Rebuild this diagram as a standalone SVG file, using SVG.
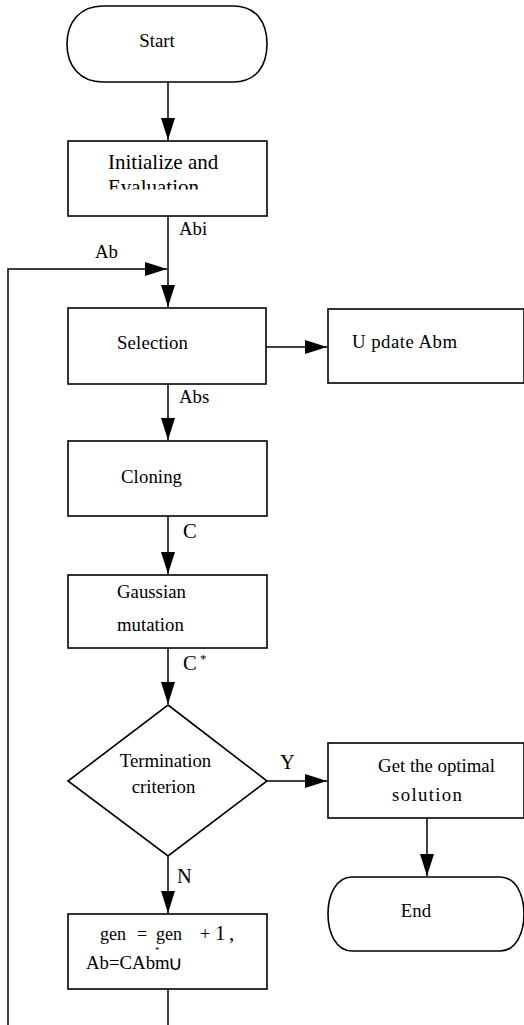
<svg xmlns="http://www.w3.org/2000/svg" width="524" height="1025" viewBox="0 0 524 1025">
<style>
.s{fill:#fff;stroke:#000;stroke-width:1.6}
.l{fill:none;stroke:#000;stroke-width:1.5}
text{font-family:"Liberation Serif","Times New Roman",serif;fill:#000}
.t{font-size:18.8px}
.b{font-size:20.5px}
</style>
<defs>
<marker id="a" viewBox="0 0 22 14" refX="22" refY="7" markerWidth="22" markerHeight="14" markerUnits="userSpaceOnUse" orient="auto">
<path d="M0,0 L22,7 L0,14 Z" fill="#000"/>
</marker>
<clipPath id="c1"><rect x="68" y="142" width="199" height="47.5"/></clipPath>
</defs>
<g id="connectors">
<path class="l" d="M168,82 V140" marker-end="url(#a)"/>
<path class="l" d="M168,216 V307" marker-end="url(#a)"/>
<path class="l" d="M8,1025 V269 H167" marker-end="url(#a)"/>
<path class="l" d="M266,347 H327" marker-end="url(#a)"/>
<path class="l" d="M168,384 V440" marker-end="url(#a)"/>
<path class="l" d="M168,516 V574" marker-end="url(#a)"/>
<path class="l" d="M168,648 V704" marker-end="url(#a)"/>
<path class="l" d="M267,781 H327" marker-end="url(#a)"/>
<path class="l" d="M427,818 V876" marker-end="url(#a)"/>
<path class="l" d="M168,856 V913" marker-end="url(#a)"/>
<path class="l" d="M168,989 V1025"/>
<text class="t" x="179" y="235">Abi</text>
<text class="t" x="95" y="258">Ab</text>
<text class="t" x="179" y="403">Abs</text>
<text class="b" x="183" y="538">C</text>
<text class="b" x="183" y="670">C<tspan x="200" y="663" style="font-size:13px">*</tspan></text>
<text class="b" x="280" y="769">Y</text>
<text class="b" x="177" y="883">N</text>
</g>
<g id="start">
<path class="s" d="M103,6 H233 C256,6 267,22 267,44 C267,66 256,82 233,82 H103 C80,82 67,66 67,44 C67,22 80,6 103,6 Z"/>
<text class="t" x="157" y="47" text-anchor="middle">Start</text>
</g>
<g id="init">
<rect class="s" x="68" y="141" width="199" height="75"/>
<g clip-path="url(#c1)">
<text style="font-size:21px" x="108" y="169">Initialize and</text>
<text style="font-size:21px" x="108" y="194">Evaluation</text>
</g>
</g>
<g id="selection">
<rect class="s" x="68" y="308" width="198" height="76"/>
<text class="t" x="117" y="349" textLength="71">Selection</text>
</g>
<g id="update">
<rect class="s" x="328" y="309" width="196" height="74"/>
<text class="t" x="352" y="348" xml:space="preserve" textLength="105">U pdate Abm</text>
</g>
<g id="cloning">
<rect class="s" x="68" y="441" width="199" height="75"/>
<text class="t" x="121" y="483" textLength="61">Cloning</text>
</g>
<g id="gaussian">
<rect class="s" x="68" y="575" width="199" height="73"/>
<text class="t" x="117" y="598">Gaussian</text>
<text class="t" x="117" y="631">mutation</text>
</g>
<g id="termination">
<path class="s" d="M168,705 L267,781 L168,856 L68,781 Z"/>
<text class="t" x="165.5" y="767" text-anchor="middle">Termination</text>
<text class="t" x="163.5" y="793" text-anchor="middle">criterion</text>
</g>
<g id="optimal">
<rect class="s" x="328" y="743" width="196" height="75"/>
<text class="t" x="436.5" y="772" text-anchor="middle">Get the optimal</text>
<text class="t" x="392" y="801" textLength="70">solution</text>
</g>
<g id="end">
<path class="s" d="M352,877 H500 C516,877 524,895 524,914 C524,933 516,951 500,951 H352 C336,951 328,933 328,914 C328,895 336,877 352,877 Z"/>
<text class="t" x="416" y="917" text-anchor="middle">End</text>
</g>
<g id="update-gen">
<rect class="s" x="68" y="914" width="199" height="75"/>
<text style="font-size:18px" y="940"><tspan x="100">gen</tspan><tspan x="137">=</tspan><tspan x="156">gen</tspan><tspan x="200">+</tspan><tspan x="215" style="font-size:21px">1</tspan><tspan x="229" style="font-size:21px">,</tspan></text>
<text class="t" x="86" y="969">Ab=CAbm<tspan x="168" y="970" style="font-size:20px">∪</tspan></text>
<text style="font-size:9px" x="155" y="953">*</text>
</g>
</svg>
